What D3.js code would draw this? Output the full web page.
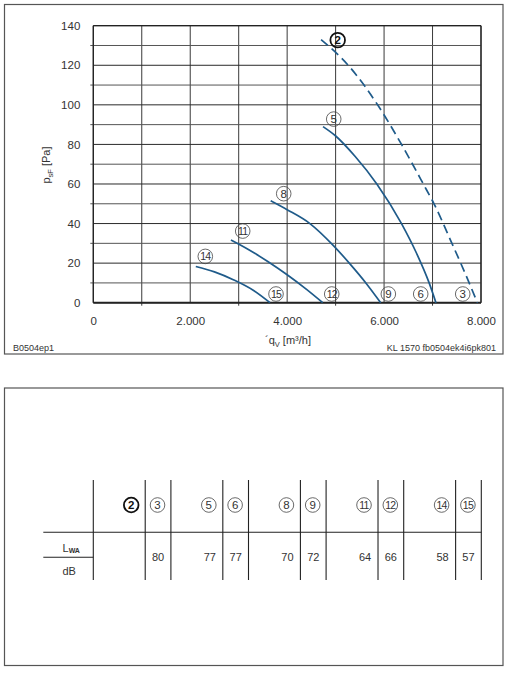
<!DOCTYPE html>
<html>
<head>
<meta charset="utf-8">
<script src="https://cdn.jsdelivr.net/npm/d3@7"></script>
<style>
  html, body { margin: 0; padding: 0; background: #fff; }
  svg { display: block; font-family: "Liberation Sans", Arial, sans-serif; }
</style>
</head>
<body>
<svg id="chart" width="510" height="680"></svg>
<script>
// ---------------- DATA ----------------
const xTicks = [0, 2000, 4000, 6000, 8000];
const yTicks = [0, 20, 40, 60, 80, 100, 120, 140];

// Fan curves: [qV m³/h, psF Pa]
const curve2  = [[4700,133],[5260,120],[5920,98],[6360,80],[6810,60],[7030,50],[7400,30],[7670,15],[7925,0]];
const curve5  = [[4740,89],[4990,84.5],[5400,74],[5850,60],[6360,40],[6670,25],[6930,10],[7070,0]];
const curve8  = [[3660,51.5],[4000,47],[4470,40],[4950,29],[5300,19.5],[5640,9.5],[5930,0]];
const curve11 = [[2840,31.7],[3200,26.9],[3600,20.8],[4000,14.1],[4400,6.7],[4733,0]];
const curve14 = [[2115,18.3],[2500,15.6],[2900,11.5],[3300,6.3],[3646,0]];
const curveNames = ["2", "5", "8", "11", "14"];
const curveDashed = [true, false, false, false, false];

// Circled markers in the chart: id, qV, psF
const markerIds = ["2", "5", "8", "11", "14", "15", "12", "9", "6", "3"];
const markerQ   = [5043, 4961, 3929, 3083, 2311, 3770, 4920, 6088, 6756, 7623];
const markerP   = [132.7, 92.8, 55.1, 36.2, 23.4, 4.4, 4.4, 4.4, 4.4, 4.4];

// Sound power table
const tableIds = ["2", "3", "5", "6", "8", "9", "11", "12", "14", "15"];
const tableLwa = [null, 80, 77, 77, 70, 72, 64, 66, 58, 57];

// ---------------- DRAW ----------------
const svg = d3.select("#chart");
const ink = "#333";
const curveColor = "#1f5b8a";

const x = d3.scaleLinear().domain([0, 8000]).range([93.3, 481]);
const y = d3.scaleLinear().domain([0, 140]).range([302.7, 25.7]);

const de = d3.formatLocale({decimal: ",", thousands: ".", grouping: [3], currency: ["", "€"]});
const fmt = de.format(",");

// outer boxes
svg.append("rect").attr("x", 4.5).attr("y", 4.5).attr("width", 498.5).attr("height", 349.5)
  .attr("fill", "none").attr("stroke", "#555").attr("stroke-width", 1.2);
svg.append("rect").attr("x", 4.5).attr("y", 388).attr("width", 498.5).attr("height", 277.5)
  .attr("fill", "none").attr("stroke", "#555").attr("stroke-width", 1.2);

// grid
const g = svg.append("g");
const gridX = d3.range(0, 8001, 1000);
const gridY = d3.range(0, 141, 10);
g.selectAll("line.gx").data(gridX).join("line")
  .attr("x1", d => x(d)).attr("x2", d => x(d))
  .attr("y1", y(140)).attr("y2", d => y(0) + (d % 2000 ? 3 : 0))
  .attr("stroke", "#3a3a3a").attr("stroke-width", 1);
g.selectAll("line.gy").data(gridY).join("line")
  .attr("y1", d => y(d)).attr("y2", d => y(d))
  .attr("x1", d => x(0) - (d % 20 ? 3 : 0)).attr("x2", x(8000))
  .attr("stroke", d => d % 20 ? "#555" : "#2a2a2a").attr("stroke-width", 1);
// frame
g.append("line").attr("x1", x(0)).attr("x2", x(8000)).attr("y1", y(0)).attr("y2", y(0))
  .attr("stroke", "#222").attr("stroke-width", 2);
g.append("line").attr("x1", x(0)).attr("x2", x(0)).attr("y1", y(0)).attr("y2", y(140))
  .attr("stroke", "#222").attr("stroke-width", 1.3);
g.append("line").attr("x1", x(8000)).attr("x2", x(8000)).attr("y1", y(0)).attr("y2", y(140))
  .attr("stroke", "#222").attr("stroke-width", 1.3);
g.append("line").attr("x1", x(0)).attr("x2", x(8000)).attr("y1", y(140)).attr("y2", y(140))
  .attr("stroke", "#222").attr("stroke-width", 1.3);

// axes labels via d3 axes (domain/ticks hidden, labels only)
const yAxis = d3.axisLeft(y).tickValues(yTicks).tickSize(0).tickPadding(13).tickFormat(d3.format("d"));
const ya = svg.append("g").attr("transform", `translate(${x(0)},0)`).call(yAxis);
const xAxis = d3.axisBottom(x).tickValues(xTicks).tickSize(0).tickPadding(14).tickFormat(fmt);
const xa = svg.append("g").attr("transform", `translate(0,${y(0)})`).call(xAxis);
[ya, xa].forEach(a => {
  a.select(".domain").remove();
  a.selectAll("text").attr("font-family", "Liberation Sans, Arial, sans-serif")
    .attr("font-size", 11.5).attr("fill", ink);
});

// axis titles
const yt = svg.append("text").attr("transform", "translate(50,165) rotate(-90)")
  .attr("text-anchor", "middle").attr("font-size", 11).attr("fill", ink);
yt.append("tspan").text("p");
yt.append("tspan").attr("font-size", 7.5).attr("dy", 3).text("sF");
yt.append("tspan").attr("dy", -3).text(" [Pa]");

const xt = svg.append("text").attr("x", 288).attr("y", 344)
  .attr("text-anchor", "middle").attr("font-size", 11).attr("fill", ink);
xt.append("tspan").text("´q");
xt.append("tspan").attr("font-size", 7.5).attr("dy", 3).text("V");
xt.append("tspan").attr("dy", -3).text(" [m³/h]");

svg.append("text").attr("x", 13).attr("y", 350.5).attr("font-size", 9).attr("fill", ink).text("B0504ep1");
svg.append("text").attr("x", 496).attr("y", 350.5).attr("text-anchor", "end")
  .attr("font-size", 9).attr("fill", ink).text("KL 1570 fb0504ek4i6pk801");

// curves
const line = d3.line().x(d => x(d[0])).y(d => y(d[1])).curve(d3.curveMonotoneX);
const curves = [curve2, curve5, curve8, curve11, curve14];
curves.forEach((c, i) => {
  svg.append("path").datum(c).attr("d", line)
    .attr("fill", "none").attr("stroke", curveColor).attr("stroke-width", 1.7)
    .attr("stroke-dasharray", curveDashed[i] ? "9,5" : null)
    .attr("data-name", curveNames[i]);
});

// circled markers
function circled(sel, cx, cy, id) {
  const bold = id === "2";
  const grp = sel.append("g").attr("transform", `translate(${cx},${cy})`);
  grp.append("circle").attr("r", 7.3).attr("fill", "none")
    .attr("stroke", bold ? "#111" : "#444").attr("stroke-width", bold ? 1.8 : 0.8);
  grp.append("text").attr("text-anchor", "middle").attr("dy", "0.36em")
    .attr("font-size", id.length > 1 ? 10.5 : 11.5)
    .attr("letter-spacing", id.length > 1 ? -0.8 : 0)
    .attr("font-weight", bold ? "bold" : "normal")
    .attr("fill", bold ? "#111" : ink).text(id);
}
markerIds.forEach((id, i) => circled(svg, x(markerQ[i]), y(markerP[i]), id));

// ---------------- TABLE ----------------
const t = svg.append("g");
const left = x(0), right = x(8000) + 0.3;
const pairW = (right - left) / 5;
const narrowW = pairW * 0.331;
const wideW = pairW - narrowW;
const cellLeft = [], cellRight = [];
tableIds.forEach((id, i) => {
  const p = Math.floor(i / 2);
  const l = left + p * pairW + (i % 2 ? wideW : 0);
  cellLeft.push(l);
  cellRight.push(l + (i % 2 ? narrowW : wideW));
});
const vx = [left].concat(cellRight);
t.selectAll("line.v").data(vx).join("line")
  .attr("x1", d => d).attr("x2", d => d).attr("y1", 480).attr("y2", 580)
  .attr("stroke", "#222").attr("stroke-width", 1.1);
t.append("line").attr("x1", 43.3).attr("x2", right).attr("y1", 532.3).attr("y2", 532.3)
  .attr("stroke", "#222").attr("stroke-width", 1.1);
t.append("line").attr("x1", 43.3).attr("x2", left).attr("y1", 557.3).attr("y2", 557.3)
  .attr("stroke", "#222").attr("stroke-width", 1.1);

const lwa = t.append("text").attr("x", 62.5).attr("y", 552).attr("font-size", 11).attr("fill", ink);
lwa.append("tspan").text("L");
lwa.append("tspan").attr("font-size", 7).attr("font-weight", "bold").attr("dy", 1).text("WA");
t.append("text").attr("x", 62.5).attr("y", 574.5).attr("font-size", 11).attr("fill", ink).text("dB");

tableIds.forEach((id, i) => {
  const narrow = i % 2 === 1;
  const cx = narrow ? cellLeft[i] + 12.3 : cellRight[i] - 14;
  circled(t, cx, 505, id);
  if (tableLwa[i] != null) {
    const vxp = narrow ? (cellLeft[i] + cellRight[i]) / 2 : cellRight[i] - 13;
    t.append("text").attr("x", vxp).attr("y", 561).attr("text-anchor", "middle")
      .attr("font-size", 11).attr("fill", ink).text(tableLwa[i]);
  }
});
</script>
</body>
</html>
